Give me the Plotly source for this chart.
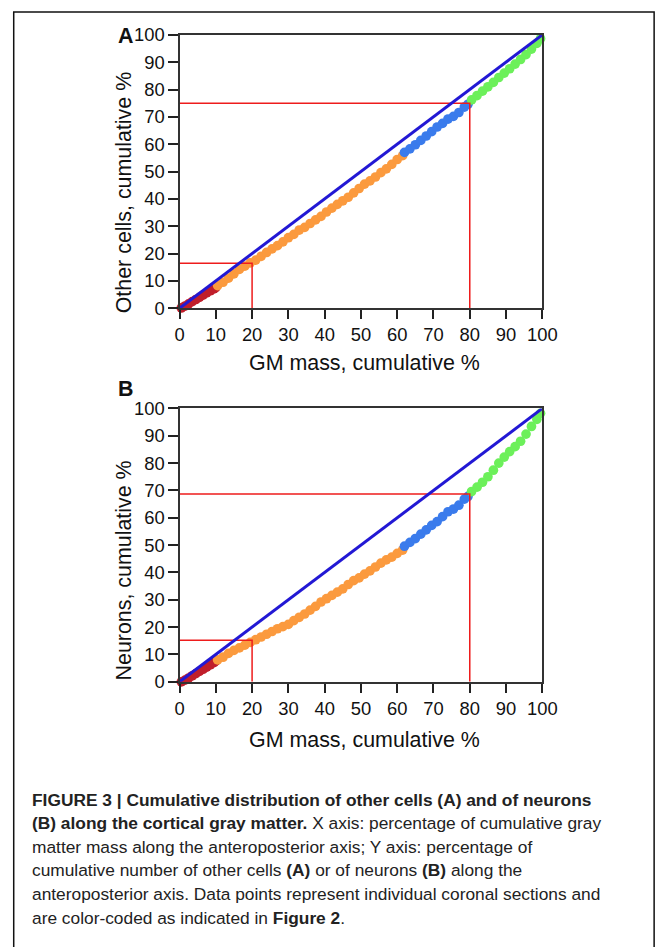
import plotly.graph_objects as go

W, H = 670, 947

# ---------------- data ----------------
# Panel A: other cells
a_red_x = [0.5, 1.5, 2.5, 3.5, 4.5, 5.5, 6.5, 7.5, 8.5, 9.5, 10]
a_red_y = [0.1, 0.8, 1.6, 2.4, 3.2, 4.0, 4.8, 5.6, 6.4, 7.1, 7.6]
a_orange_x = [10.5, 12, 13.5, 15, 16.5, 18, 19.5, 21, 22.5, 24, 25.5, 27, 28.5, 30, 31.5, 33, 34.5,
              36, 37.5, 39, 40.5, 42, 43.5, 45, 46.5, 48, 49.5, 51, 52.5, 54, 55.5, 57, 58.5, 60, 61.5]
a_orange_y = [8.3, 9.5, 11.0, 12.6, 14.2, 15.4, 16.6, 17.6, 19.0, 20.4, 21.7, 22.9, 24.3, 25.8, 27.0, 28.6, 29.6,
              31.0, 32.3, 33.6, 35.2, 36.6, 38.0, 39.3, 40.6, 42.2, 43.8, 45.4, 46.6, 48.0, 49.6, 51.0, 52.6, 54.4, 55.8]
a_blue_x = [62, 63.5, 65, 66.5, 68, 69.5, 71, 72.5, 74, 75.5, 77, 78.5, 79.5]
a_blue_y = [57.0, 58.3, 59.8, 61.4, 63.0, 64.6, 66.3, 67.6, 69.2, 70.2, 71.6, 73.6, 74.6]
a_green_x = [80.5, 82, 83.5, 85, 86.5, 88, 89.5, 91, 92.5, 94, 95.5, 97, 98.5, 99.5]
a_green_y = [76.2, 77.8, 79.4, 81.0, 82.6, 84.4, 86.0, 87.6, 89.3, 91.0, 92.8, 94.8, 96.9, 98.6]

# Panel B: neurons
b_red_x = [0.5, 1.5, 2.5, 3.5, 4.5, 5.5, 6.5, 7.5, 8.5, 9.5, 10]
b_red_y = [0.0, 0.6, 1.4, 2.2, 3.0, 3.8, 4.6, 5.4, 6.2, 7.0, 7.6]
b_orange_x = [10.5, 12, 13.5, 15, 16.5, 18, 19.5, 21, 22.5, 24, 25.5, 27, 28.5, 30, 31.5, 33, 34.5,
              36, 37.5, 39, 40.5, 42, 43.5, 45, 46.5, 48, 49.5, 51, 52.5, 54, 55.5, 57, 58.5, 60, 61.5]
b_orange_y = [8.0, 9.0, 10.4, 11.5, 12.4, 13.4, 14.4, 15.4, 16.4, 17.4, 18.4, 19.4, 20.2, 21.0, 22.4, 23.6, 24.8,
              26.2, 27.6, 29.2, 30.4, 31.6, 32.8, 34.0, 35.6, 37.0, 38.0, 39.4, 40.6, 42.0, 43.4, 44.6, 45.6, 47.0, 48.2]
b_blue_x = [62, 63.5, 65, 66.5, 68, 69.5, 71, 72.5, 74, 75.5, 77, 78.5, 79.5]
b_blue_y = [49.6, 51.0, 52.4, 54.0, 55.6, 57.2, 58.6, 60.4, 62.2, 63.2, 64.6, 66.8, 67.8]
b_green_x = [80.5, 82, 83.5, 85, 86.5, 88, 89.5, 91, 92.5, 94, 95.5, 97, 98.5, 99.5]
b_green_y = [69.6, 71.2, 73.0, 75.0, 77.4, 80.0, 82.2, 84.2, 86.0, 88.0, 90.6, 93.4, 96.0, 98.2]

# reference (red) lines: y value reached at x = 20 and x = 80
ref_x = [20, 80]
ref_y_a = [16.5, 75.0]
ref_y_b = [15.2, 68.7]

diag = [0, 100]
tick_vals = list(range(0, 101, 10))
tick_text = [str(v) for v in tick_vals]

x_title = "GM mass, cumulative %"
y_title_a = "Other cells, cumulative %"
y_title_b = "Neurons, cumulative %"

caption_lines = [
    "<b>FIGURE 3 | Cumulative distribution of other cells (A) and of neurons</b>",
    "<b>(B) along the cortical gray matter.</b> X axis: percentage of cumulative gray",
    "matter mass along the anteroposterior axis; Y axis: percentage of",
    "cumulative number of other cells <b>(A)</b> or of neurons <b>(B)</b> along the",
    "anteroposterior axis. Data points represent individual coronal sections and",
    "are color-coded as indicated in <b>Figure 2</b>.",
]

# ---------------- styling ----------------
C_RED = "#c01e2b"
C_ORANGE = "#fb9a3e"
C_BLUE = "#3a7bec"
C_GREEN = "#6cf05a"
C_DIAG = "#2218d4"
C_REF = "#ee1c1c"
FONT = "Liberation Sans"

# the photographed page comes out slightly reduced and shifted; lay out so the
# picture lands on the reference's pixel positions
S, DX, DY = 0.98, 2.7, 9.4


def px(X):
    return ((X - DX) / S) / W


def py(Y):
    return 1 - ((Y - DY) / S) / H


def fs(v):
    return v / S


fig = go.Figure()

panels = [
    ("x", "y", [(a_red_x, a_red_y, C_RED), (a_orange_x, a_orange_y, C_ORANGE),
                (a_blue_x, a_blue_y, C_BLUE), (a_green_x, a_green_y, C_GREEN)], ref_y_a),
    ("x2", "y2", [(b_red_x, b_red_y, C_RED), (b_orange_x, b_orange_y, C_ORANGE),
                  (b_blue_x, b_blue_y, C_BLUE), (b_green_x, b_green_y, C_GREEN)], ref_y_b),
]

for xa, ya, groups, refy in panels:
    for gx, gy, col in groups:
        fig.add_trace(go.Scatter(x=gx, y=gy, xaxis=xa, yaxis=ya, mode="markers",
                                 marker=dict(size=fs(9.5), color=col, line=dict(width=0)),
                                 cliponaxis=False, showlegend=False, hoverinfo="skip"))
    for rx, ry in zip(ref_x, refy):
        fig.add_trace(go.Scatter(x=[0, rx, rx], y=[ry, ry, 0], xaxis=xa, yaxis=ya, mode="lines",
                                 line=dict(color=C_REF, width=1.5), showlegend=False, hoverinfo="skip"))
    fig.add_trace(go.Scatter(x=diag, y=diag, xaxis=xa, yaxis=ya, mode="lines",
                             line=dict(color=C_DIAG, width=3), cliponaxis=False,
                             showlegend=False, hoverinfo="skip"))

axis_common = dict(range=[0, 100], tickvals=tick_vals, ticktext=tick_text, ticks="outside",
                   ticklen=fs(9), tickwidth=2, tickcolor="#222", showline=True, linecolor="#333",
                   linewidth=2, mirror=True, showgrid=False, zeroline=False,
                   tickfont=dict(family=FONT, size=fs(18), color="#111"), fixedrange=True)

xdom = [px(179), px(545.5)]
fig.update_layout(
    width=W, height=H, margin=dict(l=0, r=0, t=0, b=0),
    paper_bgcolor="white", plot_bgcolor="white",
    xaxis=dict(domain=xdom, anchor="y", **axis_common),
    yaxis=dict(domain=[py(307.3), py(33.3)], anchor="x", **axis_common),
    xaxis2=dict(domain=xdom, anchor="y2", **axis_common),
    yaxis2=dict(domain=[py(681.7), py(407.7)], anchor="x2", **axis_common),
)


def label(text, x, y, size, angle=0, xanchor="center", color="#111"):
    return dict(text=text, x=px(x), y=py(y), xref="paper", yref="paper", textangle=angle,
                xanchor=xanchor, yanchor="middle", showarrow=False,
                font=dict(family=FONT, size=fs(size), color=color))


ann = [
    label("<b>A</b>", 124, 34, 21),
    label("<b>B</b>", 124, 388, 21),
    label(x_title, 366, 362, 21),
    label(x_title, 366, 740, 21),
    label(y_title_a, 123, 191, 21, angle=-90),
    label(y_title_b, 123, 570, 21, angle=-90),
]
for i, line in enumerate(caption_lines):
    ann.append(label(line, 28, 800 + i * 23.6, 17, xanchor="left", color="#222"))
fig.update_layout(annotations=ann)

# outer frame (open at the bottom), pushed to the page edges on top/right
fl, ft, fr = px(11.5), 1 - 0.9 / H, 1 - 0.9 / W
fig.add_shape(type="path", xref="paper", yref="paper",
              path=f"M {fl},-0.05 L {fl},{ft} L {fr},{ft} L {fr},-0.05",
              line=dict(color="#111", width=1.5))

fig.write_html(
    "out.html",
    config={"displayModeBar": False},
    post_script="document.body.style.margin='0';",
)
